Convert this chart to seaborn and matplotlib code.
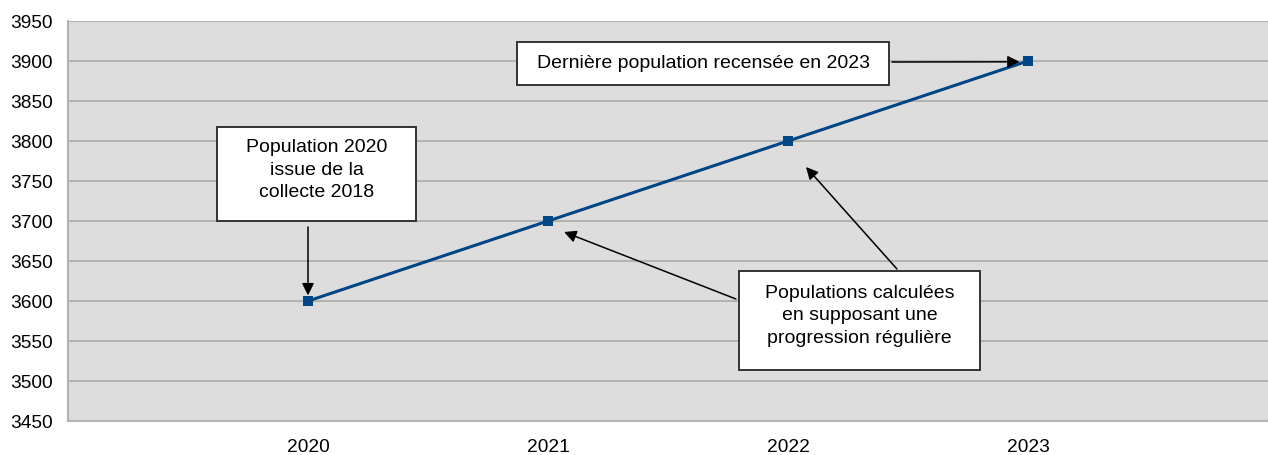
import matplotlib
matplotlib.use("Agg")
import matplotlib.pyplot as plt
import seaborn as sns
import pandas as pd
from matplotlib.patches import Rectangle

years = ["2020", "2021", "2022", "2023"]
population = [3600, 3700, 3800, 3900]
y_ticks = [3450, 3500, 3550, 3600, 3650, 3700, 3750, 3800, 3850, 3900, 3950]

note_first = "Population 2020\nissue de la\ncollecte 2018"
note_last = "Dernière population recensée en 2023"
note_mid = "Populations calculées\nen supposant une\nprogression régulière"

sns.set_theme(style="white")
plt.rcParams["font.family"] = ["Liberation Sans", "DejaVu Sans"]

W, H = 1268, 456
fig = plt.figure(figsize=(W / 100, H / 100), dpi=100)
ax = fig.add_axes([68 / W, (H - 422) / H, (1268 - 68) / W, 400 / H])
ax.set_facecolor("#dddddd")

df = pd.DataFrame({"year": years, "population": population})
sns.lineplot(data=df, x="year", y="population", ax=ax, color="#004586",
             linewidth=2.2, marker="s", markersize=7.5, markeredgewidth=0, zorder=5)

ax.set_xlim(-1, 4)
ax.set_ylim(y_ticks[0], y_ticks[-1])
ax.set_yticks(y_ticks)
ax.set_yticklabels([str(v) for v in y_ticks])
ax.set_xticks(range(len(years)))
ax.set_xticklabels(years)
ax.set_xticks([-1], minor=True)
ax.set_xlabel("")
ax.set_ylabel("")

grid_c = "#b3b3b3"
ax.grid(axis="y", color=grid_c, linewidth=1.5, zorder=1)
ax.set_axisbelow(True)
for s in ["top", "right"]:
    ax.spines[s].set_visible(False)
for s in ["left", "bottom"]:
    ax.spines[s].set_color(grid_c)
    ax.spines[s].set_linewidth(1.5)
ax.tick_params(axis="both", which="both", length=6, width=1.5, color=grid_c,
               labelsize=13.8, labelcolor="black", pad=5, direction="out")
ax.tick_params(axis="x", pad=6)

fs = 14


def note(text, x0, x1, y0, y1, lift=0.0):
    r = Rectangle((x0, y0), x1 - x0, y1 - y0, facecolor="white",
                  edgecolor="#333333", linewidth=1.4, zorder=6)
    ax.add_patch(r)
    ax.text((x0 + x1) / 2, (y0 + y1) / 2 + lift, text, ha="center", va="center",
            fontsize=fs, linespacing=1.42, color="black", zorder=7)


note(note_first, -0.379, 0.45, 3700, 3817.5, lift=6)
note(note_last, 0.871, 2.421, 3870, 3923.75, lift=1)
note(note_mid, 1.796, 2.80, 3513.75, 3637.5, lift=7)

ap = dict(arrowstyle="-|>", color="black", lw=1.1, mutation_scale=18,
          shrinkA=0, shrinkB=0)
ax.annotate("", xy=(0, 3607), xytext=(0, 3692.5), arrowprops=ap, zorder=8)
ax.annotate("", xy=(2.965, population[3] - 1), xytext=(2.433, 3898.75), arrowprops=ap, zorder=8)
ax.annotate("", xy=(1.067, 3686.25), xytext=(1.783, 3602.5), arrowprops=ap, zorder=8)
ax.annotate("", xy=(2.075, 3767.5), xytext=(2.454, 3640), arrowprops=ap, zorder=8)

fig.savefig("out.png", dpi=100, facecolor="white")
